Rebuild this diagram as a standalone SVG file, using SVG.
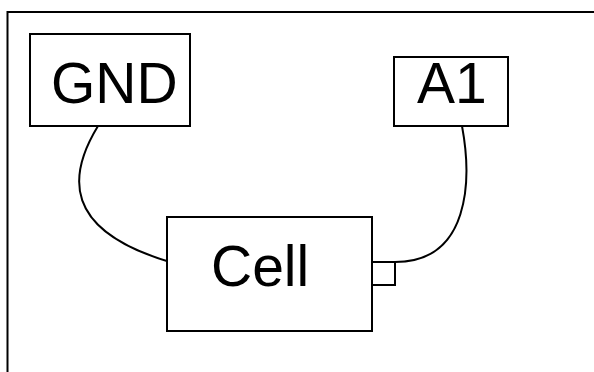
<svg xmlns="http://www.w3.org/2000/svg" width="594" height="372" viewBox="0 0 594 372">
<style>
.box{fill:#fff;stroke:#000;stroke-width:2}
.lbl{font-family:"Liberation Sans",Arial,sans-serif;font-size:57px;fill:#000}
.wire{fill:none;stroke:#000;stroke-width:2}
</style>
<rect width="594" height="372" fill="#fff"/>
<g id="frame"><path d="M7.5,380 V12 H600" fill="none" stroke="#000" stroke-width="2"/></g>
<g id="connectors">
<path class="wire" d="M98,126 C68,175 62,230 170,262"/>
<path class="wire" d="M462,126 C472,180 470,262 395,262"/>
</g>
<g id="gnd"><rect class="box" x="30" y="34" width="160" height="92"/><text class="lbl" x="51" y="103">GND</text></g>
<g id="a1"><rect class="box" x="394" y="57" width="114" height="69"/><text class="lbl" x="417" y="103">A1</text></g>
<g id="cell"><rect class="box" x="167" y="217" width="205" height="114"/><text class="lbl" x="211" y="286">Cell</text>
<rect class="box" x="372" y="262" width="23" height="23"/></g>
</svg>
